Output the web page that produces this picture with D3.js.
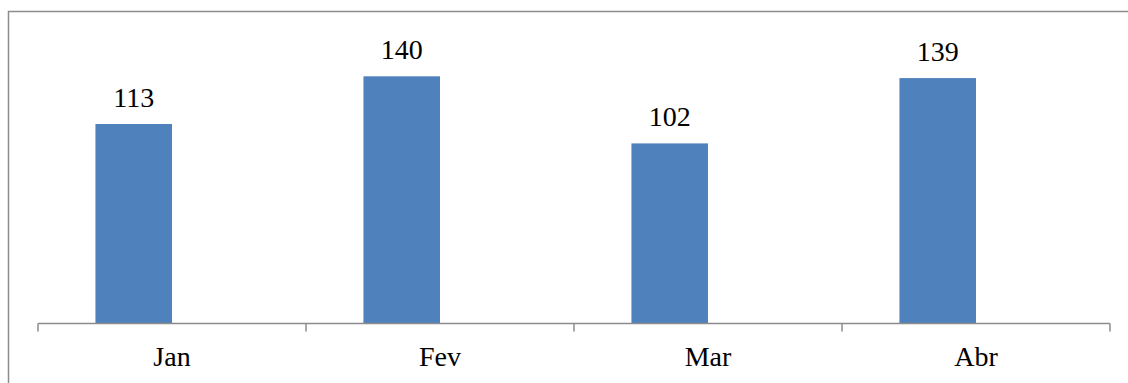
<!DOCTYPE html>
<html>
<head>
<meta charset="utf-8">
<script src="https://cdn.jsdelivr.net/npm/d3@7"></script>
<style>
  html, body { margin: 0; padding: 0; background: #fff; }
  svg { display: block; }
</style>
</head>
<body>
<svg id="chart" width="1128" height="383"></svg>
<script>
// Monthly totals
const months = ["Jan", "Fev", "Mar", "Abr"];
const values = [113, 140, 102, 139];

const W = 1128, H = 383;
const plot = { left: 38, right: 1110, top: 41, bottom: 323.5 };
const FONT = "'Liberation Serif', 'Times New Roman', serif";

const svg = d3.select("#chart");

// Outer frame (top and left edges visible)
svg.append("path")
  .attr("d", `M8.5,${H} V11.5 H${W}`)
  .attr("fill", "none")
  .attr("stroke", "#8c8c8c")
  .attr("stroke-width", 1.5);

const x = d3.scaleBand().domain(months).range([plot.left, plot.right]).padding(0);
const y = d3.scaleLinear().domain([0, 160]).range([plot.bottom, plot.top]);

const barW = x.bandwidth() * 0.2857;

// Bars sit just left of each category's centre
svg.append("g").selectAll("rect")
  .data(months)
  .join("rect")
  .attr("x", (d) => x(d) + x.bandwidth() / 2 - barW)
  .attr("y", (d, i) => y(values[i]))
  .attr("width", barW)
  .attr("height", (d, i) => y(0) - y(values[i]))
  .attr("fill", "#4f81bd");

// Value labels
svg.append("g").selectAll("text")
  .data(months)
  .join("text")
  .attr("x", (d) => x(d) + x.bandwidth() / 2 - barW / 2)
  .attr("y", (d, i) => y(values[i]) - 17)
  .attr("text-anchor", "middle")
  .attr("font-family", FONT)
  .attr("font-size", 28)
  .attr("fill", "#000")
  .text((d, i) => values[i]);

// Category axis with ticks between categories
const axisG = svg.append("g");
axisG.append("line")
  .attr("x1", plot.left).attr("x2", plot.right)
  .attr("y1", plot.bottom).attr("y2", plot.bottom)
  .attr("stroke", "#8c8c8c").attr("stroke-width", 1.5);

const tickXs = months.map((d) => x(d)).concat([x(months[months.length - 1]) + x.bandwidth()]);
axisG.selectAll("line.tick")
  .data(tickXs)
  .join("line")
  .attr("class", "tick")
  .attr("x1", (d) => d).attr("x2", (d) => d)
  .attr("y1", plot.bottom).attr("y2", plot.bottom + 8)
  .attr("stroke", "#8c8c8c").attr("stroke-width", 1.5);

axisG.selectAll("text")
  .data(months)
  .join("text")
  .attr("x", (d) => x(d) + x.bandwidth() / 2)
  .attr("y", 366)
  .attr("text-anchor", "middle")
  .attr("font-family", FONT)
  .attr("font-size", 28)
  .attr("fill", "#000")
  .text((d) => d);
</script>
</body>
</html>
